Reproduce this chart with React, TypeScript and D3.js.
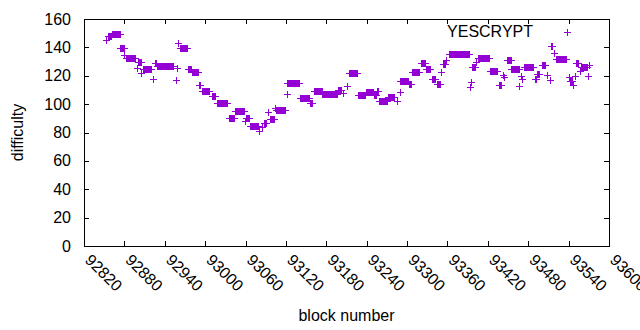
import React from 'react';
import * as d3 from 'd3';

// Runs of consecutive YESCRYPT blocks sharing the same difficulty: [start block, end block, difficulty]
const runStart = [
  92852, 92856, 92861, 92874, 92880, 92882, 92898, 92900, 92905, 92908,
  92922, 92925, 92929, 92956, 92958, 92960, 92963, 92975, 92981, 92991,
  92995, 93010, 93018, 93035, 93045, 93059, 93061, 93066, 93080, 93085,
  93087, 93094, 93097, 93104, 93105, 93121, 93122, 93141, 93156, 93162,
  93174, 93198, 93205, 93210, 93213, 93227, 93239, 93251, 93255, 93258,
  93271, 93285, 93289, 93290, 93303, 93308, 93320, 93328, 93337, 93344,
  93351, 93353, 93358, 93363, 93393, 93395, 93397, 93403, 93406, 93423,
  93436, 93442, 93444, 93448, 93455, 93467, 93469, 93471, 93473, 93490,
  93493, 93500, 93508, 93512, 93514, 93518, 93521, 93540, 93542, 93547,
  93549, 93551, 93557, 93558, 93569, 93570,
];
const runEnd = [
  92852, 92860, 92873, 92879, 92880, 92896, 92898, 92904, 92905, 92920,
  92922, 92927, 92952, 92956, 92958, 92960, 92973, 92979, 92989, 92993,
  93005, 93015, 93032, 93043, 93058, 93059, 93065, 93079, 93080, 93085,
  93090, 93094, 93102, 93104, 93119, 93121, 93140, 93154, 93159, 93173,
  93196, 93202, 93205, 93210, 93226, 93237, 93249, 93254, 93257, 93270,
  93281, 93285, 93289, 93302, 93306, 93318, 93327, 93334, 93342, 93349,
  93351, 93356, 93358, 93392, 93393, 93395, 93401, 93403, 93421, 93434,
  93439, 93442, 93444, 93454, 93466, 93467, 93469, 93471, 93487, 93492,
  93496, 93505, 93508, 93512, 93516, 93518, 93536, 93540, 93545, 93547,
  93549, 93554, 93557, 93568, 93569, 93570,
];
const runDifficulty = [
  145.3, 148.0, 149.5, 139.5, 134.8, 132.4, 125.3, 129.6, 121.8, 124.6,
  117.8, 128.8, 126.8, 117.1, 125.3, 142.8, 139.5, 124.8, 122.6, 113.6,
  109.3, 105.8, 100.7, 90.2, 95.2, 87.8, 90.1, 84.7, 81.2, 84.2,
  86.6, 94.8, 89.4, 97.6, 95.8, 107.0, 114.8, 104.3, 100.7, 109.3,
  107.0, 110.0, 107.8, 112.8, 121.8, 106.1, 108.4, 106.4, 109.6, 102.3,
  105.3, 102.3, 108.8, 116.3, 114.1, 122.5, 128.8, 124.6, 117.6, 114.1,
  122.8, 128.3, 131.2, 135.3, 111.8, 115.3, 126.0, 129.8, 132.4, 123.2,
  113.6, 120.8, 119.3, 131.2, 124.6, 112.8, 119.8, 118.0, 126.0, 117.8,
  121.3, 127.6, 120.6, 117.1, 141.2, 135.8, 131.7, 119.4, 116.4, 113.3,
  119.8, 128.8, 123.4, 126.0, 119.8, 127.7,
];

const xTicks = [92820, 92880, 92940, 93000, 93060, 93120, 93180, 93240, 93300, 93360, 93420, 93480, 93540, 93600];
const yTicks = [0, 20, 40, 60, 80, 100, 120, 140, 160];
const seriesName = 'YESCRYPT';
const xLabel = 'block number';
const yLabel = 'difficulty';

const COLOR = '#9400d3';
const FONT = "'Liberation Sans', Arial, sans-serif";

function crossPath(cx: number, cy: number, h = 3) {
  return `M${cx - h},${cy + 0.5}h${2 * h + 1}M${cx + 0.5},${cy - h}v${2 * h + 1}`;
}

export default function App() {
  const W = 640, H = 330;
  const left = 84, right = 609, top = 19, bottom = 246;
  const x = d3.scaleLinear().domain([92820, 93600]).range([left, right]);
  const y = d3.scaleLinear().domain([0, 160]).range([bottom, top]);

  const points = runStart.flatMap((s, i) =>
    d3.range(s, runEnd[i] + 1).map((b) => ({ b, v: runDifficulty[i] }))
  );

  const tickLen = 5;

  return (
    <svg width={W} height={H} style={{ position: 'absolute', left: 0, top: 0, background: '#fff' }}
      fontFamily={FONT} fontSize={16}>
      <rect x={0} y={0} width={W} height={H} fill="#fff" />
      {/* data */}
      <g stroke={COLOR} strokeWidth={1} fill="none" shapeRendering="crispEdges">
        {points.map((p, i) => (
          <path key={i} d={crossPath(Math.round(x(p.b)), Math.round(y(p.v)))} />
        ))}
      </g>
      {/* frame and ticks */}
      <g stroke="#000" strokeWidth={1} fill="none" shapeRendering="crispEdges">
        <rect x={left + 0.5} y={top + 0.5} width={right - left} height={bottom - top} />
        {yTicks.map((t) => {
          const yy = Math.round(y(t)) + 0.5;
          return (
            <g key={t}>
              <line x1={left} x2={left + tickLen} y1={yy} y2={yy} />
              <line x1={right - tickLen} x2={right} y1={yy} y2={yy} />
            </g>
          );
        })}
        {xTicks.map((t) => {
          const xx = Math.round(x(t)) + 0.5;
          return (
            <g key={t}>
              <line x1={xx} x2={xx} y1={bottom} y2={bottom - tickLen} />
              <line x1={xx} x2={xx} y1={top} y2={top + tickLen} />
            </g>
          );
        })}
      </g>
      {/* y tick labels */}
      {yTicks.map((t) => (
        <text key={t} x={71} y={y(t)} textAnchor="end" dominantBaseline="central" fill="#000">{t}</text>
      ))}
      {/* x tick labels rotated */}
      {xTicks.map((t) => (
        <text key={t} transform={`translate(${x(t) + 4},${257}) rotate(45)`} textAnchor="start"
          dominantBaseline="central" fill="#000">{t}</text>
      ))}
      <text x={(left + right) / 2} y={321} textAnchor="middle" fill="#000">{xLabel}</text>
      <text transform={`translate(23,${(top + bottom) / 2}) rotate(-90)`} textAnchor="middle" fill="#000">{yLabel}</text>
      {/* legend */}
      <text x={533} y={31} textAnchor="end" dominantBaseline="central" fill="#000">{seriesName}</text>
      <path d={crossPath(567, 32)} stroke={COLOR} strokeWidth={1} fill="none" shapeRendering="crispEdges" />
    </svg>
  );
}
